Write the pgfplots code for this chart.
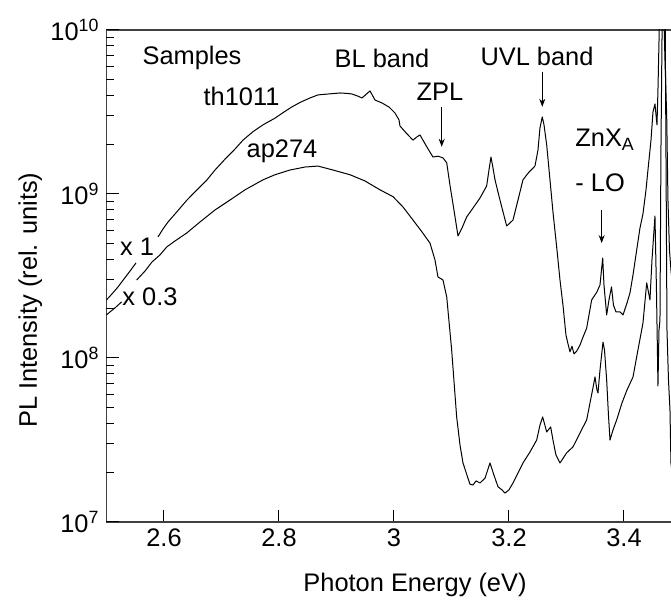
\documentclass[border=0pt]{standalone}
\usepackage{fontspec}
\setmainfont{Liberation Sans}
\usepackage{pgfplots}
\pgfplotsset{compat=1.18}
\usetikzlibrary{arrows.meta}
\begin{document}
\begin{tikzpicture}
\begin{axis}[name=ax, scale only axis, width=284.625pt, height=246pt,
  xmin=2.5, xmax=3.49, ymode=log, ymin=1e7, ymax=1e10,
  xtick={2.6,2.8,3,3.2,3.4}, xticklabels={2.6,2.8,3,3.2,3.4},
  ytick={1e7,1e8,1e9,1e10},
  yticklabels={10\textsuperscript{7},10\textsuperscript{8},10\textsuperscript{9},10\textsuperscript{10}},
  tick pos=left, tick align=inside,
  major tick length=6pt, minor tick length=3.5pt,
  axis line style={line width=0.75pt, draw=black!75},
  every tick/.append style={draw=black, line width=0.5pt},
  tick label style={font=\fontsize{12.7}{14}\selectfont},
  label style={font=\fontsize{12.7}{14}\selectfont},
  xlabel={Photon Energy (eV)}, ylabel={PL Intensity (rel. units)},
  xlabel style={at={(axis description cs:0.542,-0.128)}, anchor=center},
  ylabel style={at={(axis description cs:-0.134,0.451)}, anchor=center, rotate=0},
  clip mode=individual,
]
% th1011 (x 1)
\addplot[black, no markers, line width=0.5pt, line join=round] coordinates {(2.5,2.26e8)(2.5096,2.46e8)(2.5200,2.71e8)(2.5304,3.03e8)(2.5409,3.39e8)(2.5513,3.80e8)};
\addplot[black, no markers, line width=0.5pt, line join=round] coordinates {
(2.5896,5.47e8)(2.5983,6.12e8)(2.6070,6.75e8)(2.6191,7.55e8)(2.6296,8.33e8)(2.6400,9.19e8)
(2.6539,1.03e9)(2.6748,1.22e9)(2.6887,1.40e9)(2.7061,1.63e9)(2.7235,1.88e9)(2.7374,2.13e9)
(2.7548,2.40e9)(2.7722,2.64e9)(2.7930,2.90e9)(2.8086,3.16e9)(2.8226,3.40e9)(2.8383,3.64e9)
(2.8539,3.85e9)(2.8678,4.02e9)(2.8852,4.07e9)(2.9061,4.13e9)(2.9200,4.10e9)(2.9270,4.07e9)
(2.9374,3.95e9)(2.9443,3.85e9)(2.9583,4.25e9)(2.9670,3.74e9)(2.9791,3.59e9)(2.9913,3.39e9)
(3.0017,3.12e9)(3.0087,2.83e9)
(3.0104,2.60e9)(3.0209,2.36e9)(3.0330,2.13e9)(3.0400,2.23e9)(3.0452,2.29e9)(3.0504,2.13e9)
(3.0574,1.93e9)(3.0678,1.68e9)(3.0765,1.70e9)(3.0852,1.66e9)(3.0917,1.55e9)(3.0974,1.13e9)
(3.1043,7.99e8)(3.1113,5.55e8)(3.1183,6.20e8)(3.1264,7.24e8)(3.1374,8.21e8)(3.1496,9.45e8)
(3.1612,1.12e9)(3.1652,1.40e9)(3.1687,1.68e9)(3.1722,1.44e9)(3.1757,1.22e9)(3.1843,9.19e8)
(3.1960,6.38e8)(3.2017,6.66e8)(3.2070,6.94e8)(3.2157,9.19e8)(3.2243,1.22e9)(3.2348,1.36e9)
(3.2452,1.48e9)(3.2504,1.85e9)(3.2539,2.53e9)(3.2579,2.95e9)(3.2609,2.64e9)(3.2656,1.99e9)
(3.2713,1.22e9)(3.2765,7.77e8)(3.2835,4.55e8)(3.2887,2.99e8)(3.2939,2.10e8)(3.2991,1.38e8)
(3.3026,1.22e8)(3.3061,1.09e8)(3.3096,1.18e8)(3.3130,1.06e8)(3.3177,1.10e8)(3.3235,1.20e8)
(3.3287,1.34e8)(3.3351,1.52e8)(3.3438,2.26e8)(3.3530,2.53e8)(3.3583,2.79e8)(3.3609,3.44e8)
(3.3630,4.07e8)(3.3652,2.79e8)(3.3699,1.83e8)(3.3739,2.26e8)(3.3783,2.71e8)(3.3817,2.10e8)
(3.3861,1.91e8)(3.3930,1.91e8)(3.3983,1.83e8)(3.4052,2.16e8)(3.4104,2.49e8)(3.4157,3.21e8)
(3.4221,4.55e8)(3.4278,6.20e8)(3.4330,7.55e8)(3.4383,1.06e9)(3.4417,1.40e9)(3.4470,2.13e9)
(3.4504,3.16e9)(3.4539,3.54e9)(3.4574,2.64e9)(3.4591,4.31e9)(3.4617,1.15e10)(3.4643,2.02e10)
(3.4678,2.02e10)(3.4713,6.56e9)(3.4743,2.99e9)(3.4765,9.19e8)(3.4791,4.55e8)(3.4817,3.44e8)
(3.4852,2.60e8)};
% ap274 (x 0.3)
\addplot[black, no markers, line width=0.5pt, line join=round] coordinates {(2.5,1.83e8)(2.5061,1.91e8)(2.5148,2.02e8)(2.5264,2.20e8)};
\addplot[black, no markers, line width=0.5pt, line join=round] coordinates {
(2.5525,2.99e8)(2.5670,3.39e8)(2.5791,3.85e8)(2.5930,4.25e8)(2.6047,4.75e8)(2.6191,5.17e8)
(2.6395,5.78e8)(2.6626,6.75e8)(2.6887,7.99e8)(2.7148,9.19e8)(2.7409,1.06e9)(2.7722,1.22e9)
(2.7930,1.31e9)(2.8191,1.40e9)(2.8452,1.46e9)(2.8678,1.48e9)(2.8939,1.40e9)(2.9235,1.31e9)
(2.9496,1.20e9)(2.9757,1.06e9)(2.9983,9.63e8)(3.0157,8.33e8)(3.0330,6.94e8)(3.0487,5.87e8)
(3.0626,5.02e8)(3.0713,3.96e8)(3.0765,3.12e8)(3.0852,2.99e8)(3.0917,2.36e8)(3.1003,1.12e8)
(3.1090,4.37e7)(3.1148,2.95e7)(3.1200,2.29e7)(3.1287,1.85e7)(3.1322,1.70e7)(3.1374,1.68e7)
(3.1426,1.78e7)(3.1496,1.73e7)(3.1583,1.85e7)(3.1670,2.29e7)(3.1739,1.93e7)(3.1809,1.64e7)
(3.1878,1.57e7)(3.1930,1.50e7)(3.2000,1.57e7)(3.2070,1.73e7)(3.2157,1.99e7)(3.2243,2.29e7)
(3.2365,2.67e7)(3.2482,3.16e7)(3.2539,3.90e7)(3.2586,4.37e7)(3.2656,3.54e7)(3.2725,3.80e7)
(3.2765,3.16e7)(3.2817,2.56e7)(3.2887,2.29e7)(3.3003,2.64e7)(3.3113,2.87e7)(3.3235,3.49e7)
(3.3351,4.19e7)(3.3409,5.32e7)(3.3470,6.84e7)(3.3496,7.66e7)(3.3530,6.38e7)(3.3548,6.12e7)
(3.3583,8.45e7)(3.3635,1.25e8)(3.3661,1.12e8)(3.3699,7.34e7)(3.3730,4.49e7)(3.3757,3.16e7)
(3.3809,3.64e7)(3.3873,4.19e7)(3.3965,5.32e7)(3.4052,6.38e7)(3.4157,7.66e7)(3.4243,1.12e8)
(3.4330,1.63e8)(3.4395,2.87e8)(3.4452,2.26e8)(3.4487,3.96e8)(3.4539,7.34e8)(3.4565,2.60e8)
(3.4591,6.75e7)(3.4609,1.48e8)(3.4626,1.70e8)(3.4643,1.85e9)(3.4661,8.69e9)(3.4678,2.02e10)
(3.4713,2.02e10)(3.4730,1.85e9)(3.4748,1.48e8)(3.4774,7.34e7)(3.4800,4.82e7)(3.4817,2.29e7)
(3.4852,1.80e7)};
% y-axis ticks on the left side (inside)
\begin{scope}[black, line width=0.5pt]
\draw (axis cs:2.5,1e7) -- (axis cs:2.5209,1e7); \draw (axis cs:2.5,1e8) -- (axis cs:2.5209,1e8);
\draw (axis cs:2.5,1e9) -- (axis cs:2.5209,1e9); \draw (axis cs:2.5,1e10) -- (axis cs:2.5209,1e10);
\draw (axis cs:2.5,2e7) -- (axis cs:2.5122,2e7); \draw (axis cs:2.5,3e7) -- (axis cs:2.5122,3e7);
\draw (axis cs:2.5,4e7) -- (axis cs:2.5122,4e7); \draw (axis cs:2.5,5e7) -- (axis cs:2.5122,5e7);
\draw (axis cs:2.5,6e7) -- (axis cs:2.5122,6e7); \draw (axis cs:2.5,7e7) -- (axis cs:2.5122,7e7);
\draw (axis cs:2.5,8e7) -- (axis cs:2.5122,8e7); \draw (axis cs:2.5,9e7) -- (axis cs:2.5122,9e7);
\draw (axis cs:2.5,2e8) -- (axis cs:2.5122,2e8); \draw (axis cs:2.5,3e8) -- (axis cs:2.5122,3e8);
\draw (axis cs:2.5,4e8) -- (axis cs:2.5122,4e8); \draw (axis cs:2.5,5e8) -- (axis cs:2.5122,5e8);
\draw (axis cs:2.5,6e8) -- (axis cs:2.5122,6e8); \draw (axis cs:2.5,7e8) -- (axis cs:2.5122,7e8);
\draw (axis cs:2.5,8e8) -- (axis cs:2.5122,8e8); \draw (axis cs:2.5,9e8) -- (axis cs:2.5122,9e8);
\draw (axis cs:2.5,2e9) -- (axis cs:2.5122,2e9); \draw (axis cs:2.5,3e9) -- (axis cs:2.5122,3e9);
\draw (axis cs:2.5,4e9) -- (axis cs:2.5122,4e9); \draw (axis cs:2.5,5e9) -- (axis cs:2.5122,5e9);
\draw (axis cs:2.5,6e9) -- (axis cs:2.5122,6e9); \draw (axis cs:2.5,7e9) -- (axis cs:2.5122,7e9);
\draw (axis cs:2.5,8e9) -- (axis cs:2.5122,8e9); \draw (axis cs:2.5,9e9) -- (axis cs:2.5122,9e9);
\end{scope}
% annotations
\begin{scope}[every node/.style={font=\fontsize{12.7}{14}\selectfont, inner sep=0pt}]
\node at (axis cs:2.6487,6.74e9) {Samples};
\node at (axis cs:2.9791,6.74e9) {BL band};
\node at (axis cs:3.2487,6.93e9) {UVL band};
\node at (axis cs:2.7348,3.96e9) {th1011};
\node at (axis cs:3.080,4.19e9) {ZPL};
\node at (axis cs:2.8052,1.81e9) {ap274};
\node[anchor=west] at (axis cs:3.3148,2.13e9) {ZnX\textsubscript{A}};
\node[anchor=west] at (axis cs:3.3148,1.17e9) {- LO};
\node at (axis cs:2.553,4.75e8) {x 1};
\node at (axis cs:2.5757,2.36e8) {x 0.3};
\end{scope}
\draw[-{Stealth[length=4pt,width=3pt]}, line width=0.5pt] (axis cs:3.0830,3.40e9) -- (axis cs:3.0830,1.94e9);
\draw[-{Stealth[length=4pt,width=3pt]}, line width=0.5pt] (axis cs:3.2579,5.57e9) -- (axis cs:3.2579,3.40e9);
\draw[-{Stealth[length=4pt,width=3pt]}, line width=0.5pt] (axis cs:3.3612,7.98e8) -- (axis cs:3.3612,5.02e8);
\end{axis}
\pgfresetboundingbox
\path[use as bounding box] ([xshift=-53.25pt,yshift=-41.5pt]ax.south west) rectangle ([xshift=282.25pt,yshift=261pt]ax.south west);
\end{tikzpicture}
\end{document}
